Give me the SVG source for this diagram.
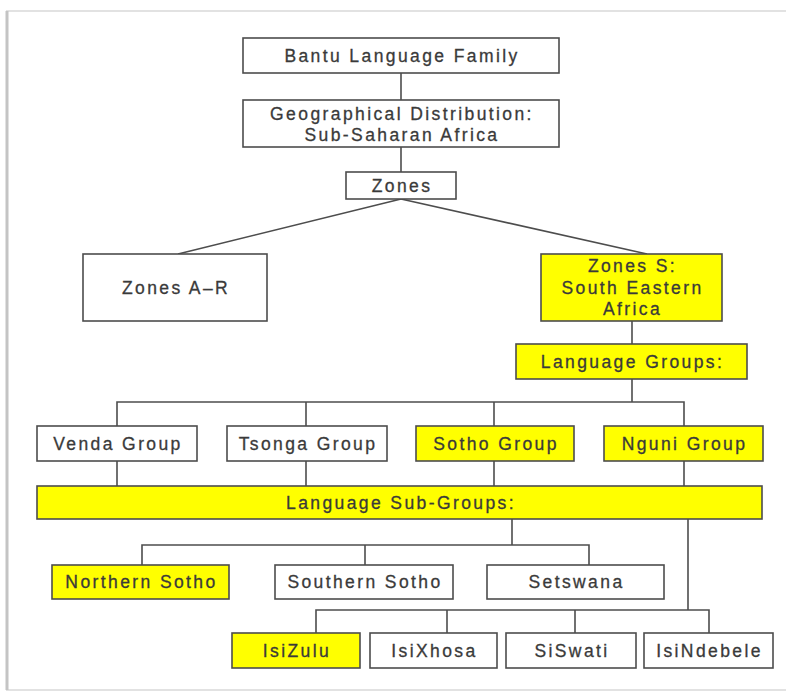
<svg xmlns="http://www.w3.org/2000/svg" width="786" height="692" viewBox="0 0 786 692">
<style>
.box{fill:#ffffff;stroke:#4d4d4d;stroke-width:1.6}
.hl{fill:#ffff00;stroke:#4d4d4d;stroke-width:1.6}
.t{font-family:"Liberation Sans",Arial,sans-serif;font-size:17.5px;letter-spacing:2.4px;fill:#3a3a3a;stroke:#3a3a3a;stroke-width:0.3;text-anchor:middle}
.c{stroke:#4d4d4d;stroke-width:1.6;fill:none}
</style>
<rect x="0" y="0" width="786" height="692" fill="#ffffff"/>
<rect x="7" y="11" width="790" height="679" fill="#ffffff" stroke="#e2e2e2" stroke-width="2"/>
<line x1="7" y1="11" x2="7" y2="690" stroke="#c4c4c4" stroke-width="3"/>
<g id="connectors">
<line class="c" x1="401" y1="73" x2="401" y2="100"/>
<line class="c" x1="401" y1="147" x2="401" y2="172"/>
<line class="c" x1="401" y1="199" x2="178" y2="254"/>
<line class="c" x1="401" y1="199" x2="647" y2="254"/>
<line class="c" x1="632" y1="321" x2="632" y2="344"/>
<line class="c" x1="632" y1="379" x2="632" y2="402"/>
<polyline class="c" points="117,426 117,402 684,402 684,426"/>
<line class="c" x1="306" y1="402" x2="306" y2="426"/>
<line class="c" x1="494" y1="402" x2="494" y2="426"/>
<line class="c" x1="117" y1="461" x2="117" y2="486"/>
<line class="c" x1="306" y1="461" x2="306" y2="486"/>
<line class="c" x1="494" y1="461" x2="494" y2="486"/>
<line class="c" x1="684" y1="461" x2="684" y2="486"/>
<line class="c" x1="512" y1="519" x2="512" y2="545"/>
<polyline class="c" points="142,565 142,545 589,545 589,565"/>
<line class="c" x1="365" y1="545" x2="365" y2="565"/>
<line class="c" x1="688" y1="519" x2="688" y2="610"/>
<polyline class="c" points="316,633 316,610 709,610 709,633"/>
<line class="c" x1="447" y1="610" x2="447" y2="633"/>
<line class="c" x1="575" y1="610" x2="575" y2="633"/>
</g>
<g id="bantu"><rect class="box" x="243" y="38" width="316" height="35"/><text class="t" x="402" y="61.5">Bantu Language Family</text></g>
<g id="geo"><rect class="box" x="243" y="100" width="316" height="47"/><text class="t" x="402" y="120">Geographical Distribution:</text><text class="t" x="402" y="141">Sub-Saharan Africa</text></g>
<g id="zones"><rect class="box" x="346" y="172" width="110" height="27"/><text class="t" x="402" y="191.5">Zones</text></g>
<g id="zonesAR"><rect class="box" x="83" y="254" width="184" height="67"/><text class="t" x="176" y="293.5">Zones A–R</text></g>
<g id="zonesS"><rect class="hl" x="541" y="254" width="181" height="67"/><text class="t" x="632.5" y="272">Zones S:</text><text class="t" x="632.5" y="294">South Eastern</text><text class="t" x="632.5" y="315">Africa</text></g>
<g id="languageGroups"><rect class="hl" x="516" y="344" width="231" height="35"/><text class="t" x="632.5" y="367.5">Language Groups:</text></g>
<g id="venda"><rect class="box" x="37" y="426" width="160" height="35"/><text class="t" x="118" y="449.5">Venda Group</text></g>
<g id="tsonga"><rect class="box" x="227" y="426" width="160" height="35"/><text class="t" x="308" y="449.5">Tsonga Group</text></g>
<g id="sotho"><rect class="hl" x="416" y="426" width="158" height="35"/><text class="t" x="496" y="449.5">Sotho Group</text></g>
<g id="nguni"><rect class="hl" x="604" y="426" width="159" height="35"/><text class="t" x="684.5" y="449.5">Nguni Group</text></g>
<g id="subGroups"><rect class="hl" x="37" y="486" width="725" height="33"/><text class="t" x="401" y="508.5">Language Sub-Groups:</text></g>
<g id="northernSotho"><rect class="hl" x="52" y="565" width="177" height="34"/><text class="t" x="141.5" y="588">Northern Sotho</text></g>
<g id="southernSotho"><rect class="box" x="275" y="565" width="178" height="34"/><text class="t" x="365" y="588">Southern Sotho</text></g>
<g id="setswana"><rect class="box" x="487" y="565" width="177" height="34"/><text class="t" x="576.5" y="588">Setswana</text></g>
<g id="isizulu"><rect class="hl" x="232" y="633" width="128" height="35"/><text class="t" x="297" y="656.5">IsiZulu</text></g>
<g id="isixhosa"><rect class="box" x="370" y="633" width="127" height="35"/><text class="t" x="434.5" y="656.5">IsiXhosa</text></g>
<g id="siswati"><rect class="box" x="506" y="633" width="130" height="35"/><text class="t" x="572" y="656.5">SiSwati</text></g>
<g id="isindebele"><rect class="box" x="644" y="633" width="129" height="35"/><text class="t" x="709.5" y="656.5">IsiNdebele</text></g>
</svg>
